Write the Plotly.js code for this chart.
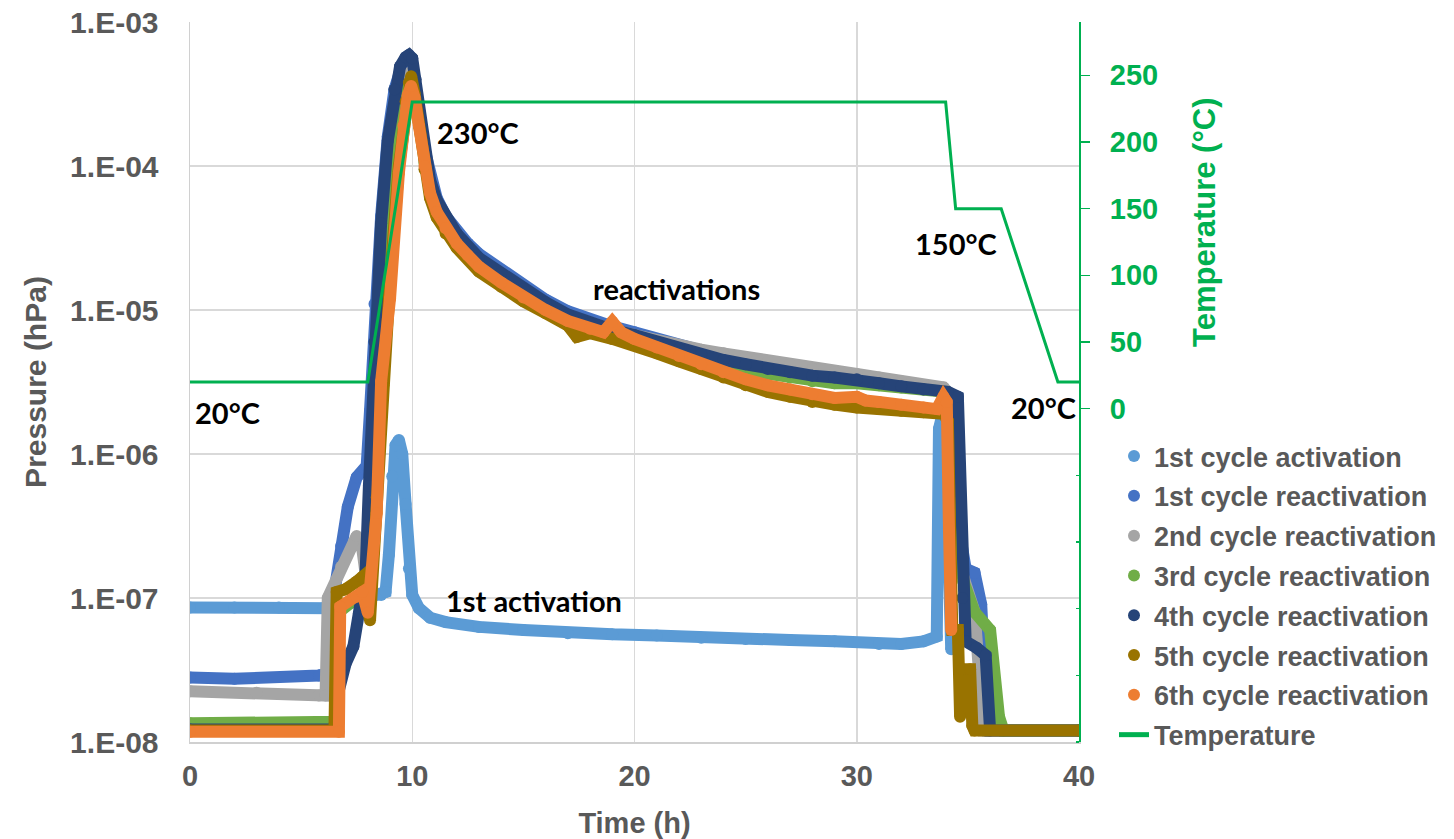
<!DOCTYPE html>
<html>
<head>
<meta charset="utf-8">
<script src="https://cdn.plot.ly/plotly-3.0.1.min.js"></script>
<style>html,body{margin:0;padding:0;background:#fff;}#chart{width:1454px;height:839px;}</style>
</head>
<body>
<div id="chart"></div>
<script>
// ---------- data ----------
const seriesNames = ["1st cycle activation","1st cycle reactivation","2nd cycle reactivation","3rd cycle reactivation","4th cycle reactivation","5th cycle reactivation","6th cycle reactivation"];
const seriesColors = ["#5B9BD5","#4472C4","#A5A5A5","#70AD47","#264478","#997300","#ED7D31"];

const act1_x = [0,2,4,6.0,6.3,7.0,8.0,8.6,8.8,8.95,9.1,9.25,9.4,9.55,9.7,9.85,10.0,10.3,10.8,11.5,13,15,17,19,21,23,25,27,29,31,32,33,33.6,33.7,33.9,34.1,34.25];
const act1_y = [8.6e-8,8.6e-8,8.6e-8,8.5e-8,8.5e-8,9e-8,1.0e-7,1.05e-7,1.1e-7,2e-7,7e-7,1.15e-6,1.25e-6,1.0e-6,4.5e-7,1.6e-7,1.05e-7,8.5e-8,7.3e-8,6.8e-8,6.3e-8,6.0e-8,5.7e-8,5.6e-8,5.5e-8,5.3e-8,5.2e-8,5.1e-8,5.0e-8,4.8e-8,4.8e-8,5.0e-8,5.4e-8,1.5e-6,2.0e-6,3e-7,4.4e-8];

const re1_x = [0,2,5.8,6.3,6.45,6.8,7.1,7.5,7.95,8.1,8.3,8.6,8.9,9.2,9.5,9.75,9.95,10.1,10.3,10.55,10.8,11.1,11.5,12,12.5,13,14,15,16,17,18,19,20,21,22,23,24,25,26,27,28,29,30,31,32,33,33.9,34.4,34.6,34.9,35.3,35.6,35.9,40];
const re1_y = [2.8e-8,2.75e-8,2.9e-8,3e-8,1e-7,2.3e-7,4.3e-7,6.9e-7,8.3e-7,2e-6,1.1e-5,4.5e-5,1.6e-4,3.4e-4,4.8e-4,5.4e-4,5.3e-4,4.0e-4,2.5e-4,1.3e-4,8.3e-5,6.0e-5,4.5e-5,3.5e-5,2.9e-5,2.45e-5,1.9e-5,1.45e-5,1.18e-5,9.8e-6,8.5e-6,7.7e-6,7.0e-6,6.3e-6,5.7e-6,5.1e-6,4.7e-6,4.3e-6,4.0e-6,3.8e-6,3.6e-6,3.5e-6,3.3e-6,3.2e-6,3.0e-6,2.9e-6,2.8e-6,2.5e-6,3e-7,1.6e-7,1.5e-7,9e-8,1.2e-8,1.2e-8];

const re2_x = [0,3,5.8,6.1,6.2,6.8,7.5,7.75,7.95,8.1,8.4,8.7,9.0,9.4,9.7,9.95,10.1,10.3,10.55,10.8,11.1,11.5,12,13,14,15,16,17,18,19,20,21,22,23,24,25,26,27,28,29,30,31,32,33,33.9,34.3,34.55,34.8,35.3,35.7,40];
const re2_y = [2.25e-8,2.2e-8,2.1e-8,2.1e-8,1e-7,1.65e-7,2.7e-7,2.2e-7,1.3e-7,5e-7,5e-6,3.5e-5,1.3e-4,3.2e-4,4.3e-4,4.5e-4,3.4e-4,2.1e-4,1.1e-4,7.2e-5,5.2e-5,4.0e-5,3.2e-5,2.2e-5,1.7e-5,1.35e-5,1.1e-5,9.2e-6,8.0e-6,7.3e-6,6.7e-6,6.1e-6,5.6e-6,5.3e-6,5.0e-6,4.7e-6,4.4e-6,4.2e-6,3.9e-6,3.7e-6,3.6e-6,3.4e-6,3.2e-6,3.0e-6,2.9e-6,2.5e-6,2e-7,1.4e-7,8e-8,1.2e-8,1.2e-8];

const re3_x = [0,6.6,6.7,7.5,7.9,8.1,8.5,8.8,9.2,9.6,9.8,9.95,10.1,10.3,10.55,10.8,11.1,11.5,12,13,14,15,16,17,18,19,20,21,22,23,24,25,26,27,28,29,30,31,32,33,34.0,34.35,34.5,34.8,35.3,36.0,36.4,36.6,40];
const re3_y = [1.35e-8,1.38e-8,8e-8,1.0e-7,8e-8,4e-7,4e-6,2.5e-5,1.3e-4,2.8e-4,3.5e-4,3.8e-4,3.1e-4,2.0e-4,1.05e-4,6.8e-5,4.9e-5,3.8e-5,3.0e-5,2.05e-5,1.6e-5,1.25e-5,1.05e-5,8.6e-6,7.6e-6,7.0e-6,6.3e-6,5.6e-6,5.0e-6,4.5e-6,4.1e-6,3.8e-6,3.6e-6,3.4e-6,3.2e-6,3.1e-6,3.1e-6,3.0e-6,2.9e-6,2.8e-6,2.7e-6,2.5e-6,3e-7,1.3e-7,8e-8,6e-8,1.5e-8,1.2e-8,1.2e-8];

const re4_x = [0,6.5,6.6,7.0,7.35,7.6,7.9,8.05,8.3,8.6,8.9,9.2,9.45,9.7,9.85,10.0,10.15,10.3,10.55,10.8,11.1,11.5,12,13,14,15,16,17,18,19,20,21,22,23,24,25,26,27,28,29,30,31,32,33,34.1,34.55,34.75,34.9,35.4,35.8,36.0,40];
const re4_y = [1.22e-8,1.22e-8,2e-8,3.5e-8,4.6e-8,7.8e-8,1.5e-7,6e-7,6e-6,4e-5,1.5e-4,3.4e-4,4.9e-4,5.7e-4,5.9e-4,5.6e-4,4.0e-4,2.6e-4,1.3e-4,8.0e-5,5.8e-5,4.4e-5,3.4e-5,2.3e-5,1.8e-5,1.4e-5,1.13e-5,9.3e-6,8.1e-6,7.3e-6,6.7e-6,6.0e-6,5.4e-6,4.9e-6,4.5e-6,4.2e-6,3.9e-6,3.7e-6,3.5e-6,3.4e-6,3.3e-6,3.1e-6,2.95e-6,2.8e-6,2.7e-6,2.5e-6,1e-7,5e-8,4.5e-8,4e-8,1.2e-8,1.2e-8];

const re5_x = [0,6.5,6.6,7.0,7.5,7.75,8.1,8.4,8.7,9.0,9.4,9.7,9.85,9.95,10.1,10.3,10.55,10.8,11.1,11.5,12,13,14,15,16,17,17.4,18,19,20,21,22,23,24,25,26,27,28,29,30,31,32,33,33.9,34.1,34.3,34.55,34.65,34.75,35.1,35.2,35.3,40];
const re5_y = [1.2e-8,1.2e-8,1.1e-7,1.15e-7,1.3e-7,1.4e-7,7e-8,5e-7,3e-6,1.6e-5,1e-4,2.8e-4,3.8e-4,4.2e-4,3.2e-4,1.9e-4,9.5e-5,6.0e-5,4.4e-5,3.4e-5,2.7e-5,1.85e-5,1.45e-5,1.15e-5,9.5e-6,7.8e-6,6.5e-6,6.9e-6,6.3e-6,5.7e-6,5.0e-6,4.4e-6,3.9e-6,3.4e-6,3.0e-6,2.7e-6,2.5e-6,2.3e-6,2.2e-6,2.1e-6,2.05e-6,2.0e-6,1.95e-6,1.9e-6,1.7e-6,6e-8,6e-8,1.5e-8,3.2e-8,3.2e-8,1.3e-8,1.2e-8,1.2e-8];

const re6_x = [0,6.7,6.76,7.5,7.75,8.0,8.4,8.6,9.0,9.4,9.6,9.8,9.95,10.1,10.3,10.55,10.8,11.1,11.5,12,12.5,13,14,15,16,17,18,18.6,19,19.4,20,21,22,23,24,25,26,27,28,29,30,30.4,31,32,33,33.6,33.9,34.05,34.15,34.25];
const re6_y = [1.18e-8,1.18e-8,8.7e-8,1.02e-7,1.1e-7,7.9e-8,3.9e-7,3.2e-6,1.2e-5,9e-5,1.9e-4,3.1e-4,3.6e-4,3.0e-4,1.9e-4,1.0e-4,6.5e-5,4.8e-5,3.7e-5,2.9e-5,2.4e-5,2.0e-5,1.55e-5,1.22e-5,1.0e-5,8.4e-6,7.4e-6,7.0e-6,8.3e-6,7.0e-6,6.3e-6,5.5e-6,4.8e-6,4.2e-6,3.7e-6,3.3e-6,3.0e-6,2.8e-6,2.6e-6,2.45e-6,2.5e-6,2.35e-6,2.3e-6,2.2e-6,2.1e-6,2.05e-6,2.5e-6,2.3e-6,3e-7,6e-8];

const temp_x = [0,8.0,10.0,34.0,34.45,36.5,39.05,40];
const temp_y = [20,20,230,230,150,150,20,20];

const pTickVals = [1e-8,1e-7,1e-6,1e-5,1e-4,1e-3];
const pTickText = ["1.E-08","1.E-07","1.E-06","1.E-05","1.E-04","1.E-03"];
const tTickVals = [0,50,100,150,200,250];
const tMinorVals = [-250,-200,-150,-100,-50];
const xTickVals = [0,10,20,30,40];

const seriesX = [act1_x,re1_x,re2_x,re3_x,re4_x,re5_x,re6_x];
const seriesY = [act1_y,re1_y,re2_y,re3_y,re4_y,re5_y,re6_y];

// ---------- traces ----------
const traces = [];
for (let i = 0; i < seriesNames.length; i++) {
  traces.push({
    x: seriesX[i], y: seriesY[i], type: 'scatter', mode: 'lines',
    line: {color: seriesColors[i], width: 12},
    showlegend: false, hoverinfo: 'skip', legendgroup: 'g' + i
  });
  traces.push({
    x: seriesX[i], y: seriesY[i], type: 'scatter', mode: 'markers',
    marker: {color: seriesColors[i], size: 12},
    name: seriesNames[i], legendgroup: 'g' + i
  });
}
traces.push({
  x: temp_x, y: temp_y, type: 'scatter', mode: 'lines', yaxis: 'y2',
  line: {color: '#00B050', width: 3}, name: 'Temperature', legendgroup: 'gt'
});

const gray = '#595959';
const sans = 'Liberation Sans, Arial, sans-serif';
const axisFont = {family: sans, size: 29, color: gray, weight: 'bold'};
const annFont = {family: 'Lato, sans-serif', size: 29, color: '#000000', weight: 'bold'};

function ann(text, x, y) {
  return {text: text, x: x, y: y, xref: 'x', yref: 'y', showarrow: false, font: annFont, xanchor: 'center', yanchor: 'middle'};
}

const layout = {
  width: 1454, height: 839,
  margin: {l: 190, r: 375, t: 22, b: 97},
  paper_bgcolor: '#ffffff', plot_bgcolor: '#ffffff',
  showlegend: true,
  xaxis: {
    range: [0, 40], tickvals: xTickVals, ticks: '', ticklabelstandoff: 8,
    tickfont: axisFont, showgrid: true, gridcolor: '#D9D9D9', gridwidth: 1.5,
    showline: true, linecolor: '#D0D0D0', linewidth: 1.5, zeroline: false,
    title: {text: 'Time (h)', font: {family: sans, size: 29, color: gray, weight: 'bold'}, standoff: 24}
  },
  yaxis: {
    type: 'log', range: [-8, -3], tickvals: pTickVals, ticktext: pTickText, ticks: '', ticklabelstandoff: 24,
    tickfont: {family: sans, size: 30, color: gray, weight: 'bold'}, showgrid: true, gridcolor: '#D9D9D9', gridwidth: 1.5,
    showline: true, linecolor: '#D0D0D0', linewidth: 1.5, zeroline: false,
    title: {text: 'Pressure (hPa)', font: {family: sans, size: 30, color: gray, weight: 'bold'}, standoff: 14}
  },
  yaxis2: {
    overlaying: 'y', side: 'right', range: [-250, 290], tickvals: tTickVals,
    ticks: 'outside', ticklen: 9, tickwidth: 1.5, tickcolor: '#00B050', ticklabelstandoff: 14,
    minor: {tickmode: 'array', tickvals: tMinorVals, ticks: 'inside', ticklen: 3, tickwidth: 1.5, tickcolor: '#00B050', showgrid: false},
    tickfont: {family: sans, size: 29, color: '#00B050', weight: 'bold'},
    showgrid: false, zeroline: false, showline: true, linecolor: '#00B050', linewidth: 2
  },
  legend: {
    xref: 'container', yref: 'container', x: 1114/1454, y: 1 - 432/839, xanchor: 'left', yanchor: 'top',
    font: {family: sans, size: 27, color: gray, weight: 'bold'},
    bgcolor: 'rgba(255,255,255,0)', traceorder: 'grouped', tracegroupgap: 1.7, itemsizing: 'constant'
  },
  annotations: [
    ann('230°C', 12.97, -3.77),
    ann('reactivations', 21.9, -4.85),
    ann('1st activation', 15.5, -7.02),
    ann('150°C', 34.46, -4.535),
    ann('20°C', 1.67, -5.715),
    ann('20°C', 38.4, -5.68),
    {text: 'Temperature (°C)', xref: 'paper', yref: 'paper', x: (1204-190)/889, y: (742-222)/720,
     textangle: -90, showarrow: false, xanchor: 'center', yanchor: 'middle',
     font: {family: sans, size: 31, color: '#00B050', weight: 'bold'}}
  ]
};

Plotly.newPlot('chart', traces, layout, {displayModeBar: false, staticPlot: true});
</script>
</body>
</html>
